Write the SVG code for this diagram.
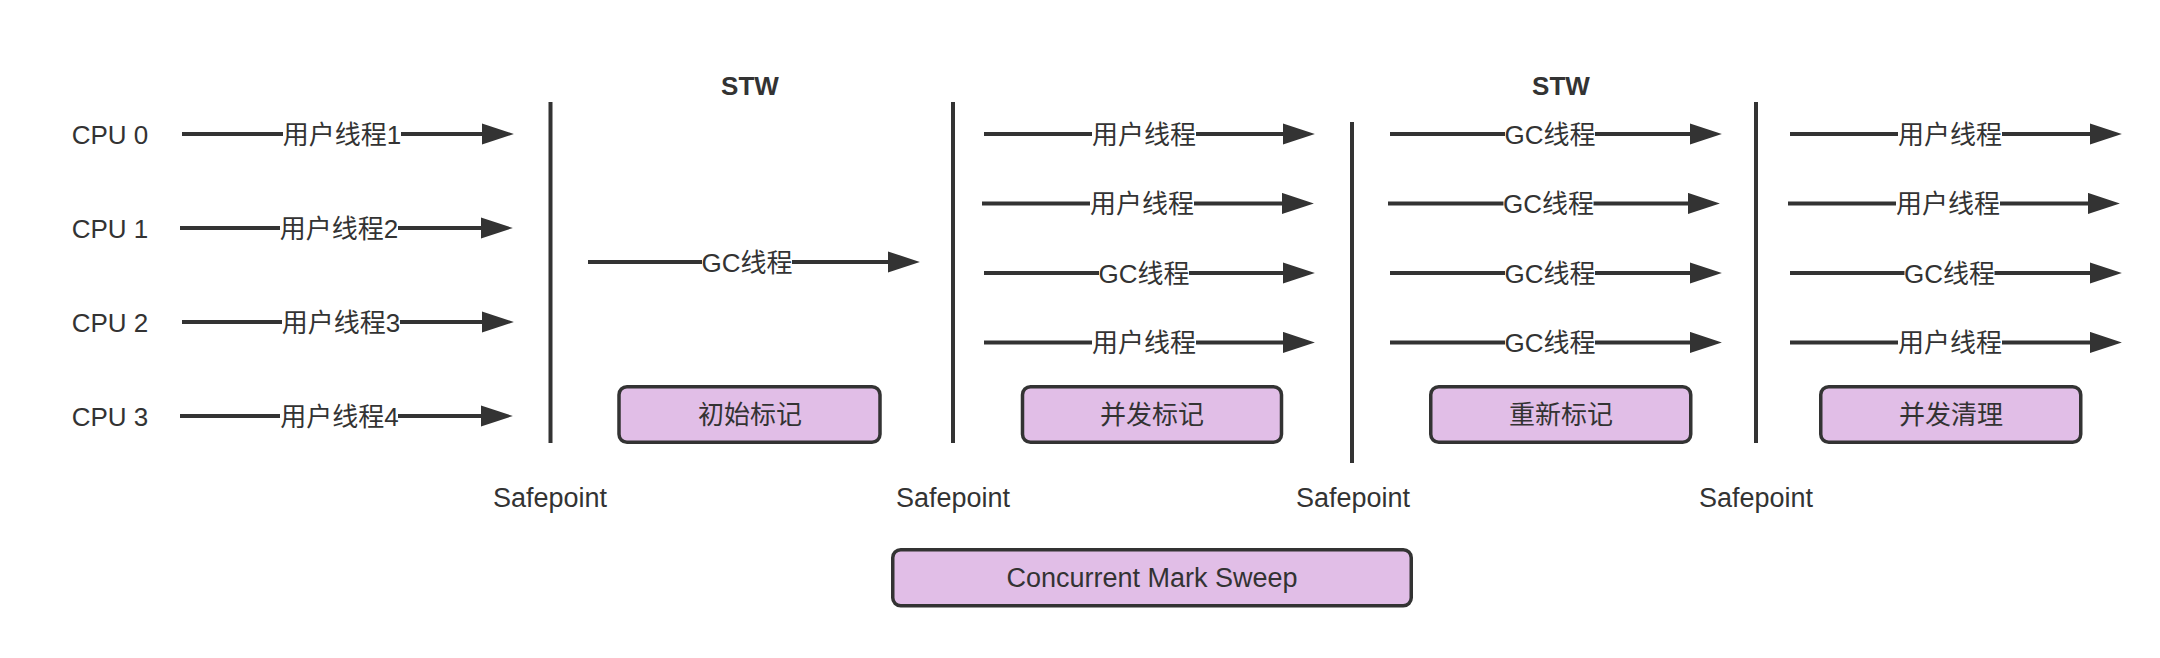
<svg xmlns="http://www.w3.org/2000/svg" width="2160" height="658" viewBox="0 0 2160 658">
<style>
  .t { font-family: "Liberation Sans", "Noto Sans CJK SC", sans-serif; font-size: 26px; fill: #333333; text-anchor: middle; }
  .w { font-size: 27px; }
  .b { font-weight: bold; }
  .ln { stroke: #333333; stroke-width: 4; fill: none; }
  .arr { stroke: #333333; stroke-width: 4; fill: none; marker-end: url(#ah); }
  .lbg { fill: #ffffff; }
  .box { fill: #E1BEE7; stroke: #333333; stroke-width: 3.5; }
</style>
<defs>
  <marker id="ah" markerUnits="userSpaceOnUse" markerWidth="32" markerHeight="22" refX="2" refY="10" orient="auto" viewBox="0 0 30 20">
    <path d="M0,0 L30,10 L0,20 Z" fill="#333333"/>
  </marker>
</defs>
<rect width="2160" height="658" fill="#ffffff"/>

<g id="cpu-labels">
  <text class="t" x="110" y="143.5">CPU 0</text>
  <text class="t" x="110" y="237.5">CPU 1</text>
  <text class="t" x="110" y="331.5">CPU 2</text>
  <text class="t" x="110" y="425.5">CPU 3</text>
</g>

<g id="stw-labels">
  <text class="t b" x="750" y="95">STW</text>
  <text class="t b" x="1561" y="95">STW</text>
</g>

<g id="safepoints">
  <line class="ln" x1="550.5" y1="102" x2="550.5" y2="443"/>
  <line class="ln" x1="953" y1="102" x2="953" y2="443"/>
  <line class="ln" x1="1352" y1="122" x2="1352" y2="463"/>
  <line class="ln" x1="1756" y1="102" x2="1756" y2="443"/>
  <text class="t w" x="550" y="507">Safepoint</text>
  <text class="t w" x="953" y="507">Safepoint</text>
  <text class="t w" x="1353" y="507">Safepoint</text>
  <text class="t w" x="1756" y="507">Safepoint</text>
</g>

<g id="connectors">
  <!-- section 1 -->
  <line class="arr" x1="182" y1="134" x2="484" y2="134"/>
  <line class="arr" x1="180" y1="228" x2="483" y2="228"/>
  <line class="arr" x1="182" y1="322" x2="484" y2="322"/>
  <line class="arr" x1="180" y1="416" x2="483" y2="416"/>
  <!-- STW 1 -->
  <line class="arr" x1="588" y1="262" x2="890" y2="262"/>
  <!-- section 2 -->
  <line class="arr" x1="984" y1="134" x2="1285" y2="134"/>
  <line class="arr" x1="982" y1="203.5" x2="1284" y2="203.5"/>
  <line class="arr" x1="984" y1="273" x2="1285" y2="273"/>
  <line class="arr" x1="984" y1="342.5" x2="1285" y2="342.5"/>
  <!-- section 3 -->
  <line class="arr" x1="1390" y1="134" x2="1692" y2="134"/>
  <line class="arr" x1="1388" y1="203.5" x2="1690" y2="203.5"/>
  <line class="arr" x1="1390" y1="273" x2="1692" y2="273"/>
  <line class="arr" x1="1390" y1="342.5" x2="1692" y2="342.5"/>
  <!-- section 4 -->
  <line class="arr" x1="1790" y1="134" x2="2092" y2="134"/>
  <line class="arr" x1="1788" y1="203.5" x2="2090" y2="203.5"/>
  <line class="arr" x1="1790" y1="273" x2="2092" y2="273"/>
  <line class="arr" x1="1790" y1="342.5" x2="2092" y2="342.5"/>
</g>

<g id="connector-labels">
  <rect class="lbg" x="283" y="120" width="118" height="28"/><text class="t" x="342" y="143.5">用户线程1</text>
  <rect class="lbg" x="280" y="214" width="118" height="28"/><text class="t" x="339" y="237.5">用户线程2</text>
  <rect class="lbg" x="282" y="308" width="118" height="28"/><text class="t" x="341" y="331.5">用户线程3</text>
  <rect class="lbg" x="280" y="402" width="118" height="28"/><text class="t" x="339.5" y="425.5">用户线程4</text>

  <rect class="lbg" x="702" y="248" width="90" height="28"/><text class="t" x="747" y="271.5">GC线程</text>

  <rect class="lbg" x="1092" y="120" width="104" height="28"/><text class="t" x="1144" y="143.5">用户线程</text>
  <rect class="lbg" x="1090" y="189.5" width="104" height="28"/><text class="t" x="1142" y="213">用户线程</text>
  <rect class="lbg" x="1099" y="259" width="90" height="28"/><text class="t" x="1144" y="282.5">GC线程</text>
  <rect class="lbg" x="1092" y="328.5" width="104" height="28"/><text class="t" x="1144" y="352">用户线程</text>

  <rect class="lbg" x="1505" y="120" width="90" height="28"/><text class="t" x="1550" y="143.5">GC线程</text>
  <rect class="lbg" x="1503.5" y="189.5" width="90" height="28"/><text class="t" x="1548.5" y="213">GC线程</text>
  <rect class="lbg" x="1505" y="259" width="90" height="28"/><text class="t" x="1550" y="282.5">GC线程</text>
  <rect class="lbg" x="1505" y="328.5" width="90" height="28"/><text class="t" x="1550" y="352">GC线程</text>

  <rect class="lbg" x="1898" y="120" width="104" height="28"/><text class="t" x="1950" y="143.5">用户线程</text>
  <rect class="lbg" x="1896" y="189.5" width="104" height="28"/><text class="t" x="1948" y="213">用户线程</text>
  <rect class="lbg" x="1904.5" y="259" width="90" height="28"/><text class="t" x="1949.5" y="282.5">GC线程</text>
  <rect class="lbg" x="1898" y="328.5" width="104" height="28"/><text class="t" x="1950" y="352">用户线程</text>
</g>

<g id="box-initial-mark">
  <rect class="box" x="619" y="386.75" width="261" height="55.5" rx="8"/>
  <text class="t" x="750" y="424">初始标记</text>
</g>
<g id="box-concurrent-mark">
  <rect class="box" x="1022.5" y="386.75" width="259" height="55.5" rx="8"/>
  <text class="t" x="1152" y="424">并发标记</text>
</g>
<g id="box-remark">
  <rect class="box" x="1430.75" y="386.75" width="260" height="55.5" rx="8"/>
  <text class="t" x="1561" y="424">重新标记</text>
</g>
<g id="box-concurrent-sweep">
  <rect class="box" x="1820.75" y="386.75" width="260" height="55.5" rx="8"/>
  <text class="t" x="1951" y="424">并发清理</text>
</g>
<g id="box-cms">
  <rect class="box" x="892.75" y="549.75" width="518.5" height="56" rx="8"/>
  <text class="t w" x="1152" y="587">Concurrent Mark Sweep</text>
</g>
</svg>
